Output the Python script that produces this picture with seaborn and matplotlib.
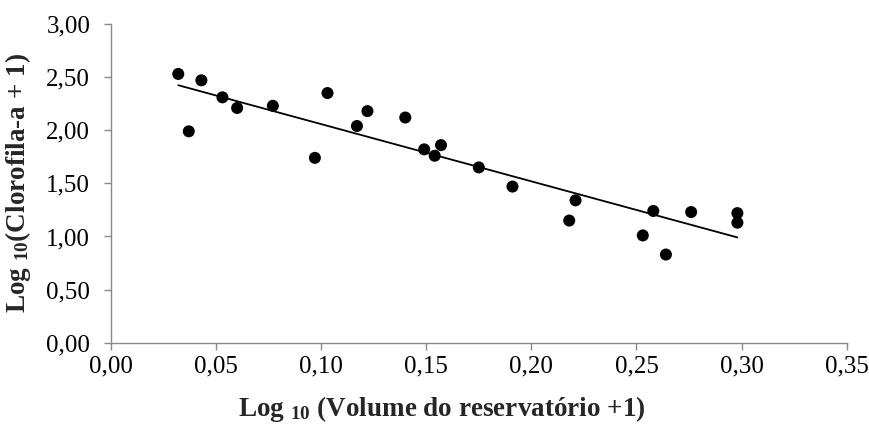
import matplotlib
matplotlib.use("Agg")
import matplotlib.pyplot as plt
import seaborn as sns
import numpy as np
import pandas as pd
from matplotlib.ticker import FuncFormatter, MultipleLocator

log_volume = [0.032, 0.037, 0.043, 0.053, 0.060, 0.077, 0.097, 0.103, 0.117, 0.122,
              0.140, 0.149, 0.154, 0.157, 0.175, 0.191, 0.218, 0.221, 0.253, 0.258,
              0.264, 0.276, 0.298, 0.298]
log_chl = [2.53, 1.99, 2.47, 2.31, 2.21, 2.23, 1.74, 2.35, 2.04, 2.18,
           2.12, 1.82, 1.76, 1.86, 1.65, 1.47, 1.15, 1.34, 1.01, 1.24,
           0.83, 1.23, 1.22, 1.13]

df = pd.DataFrame({"x": log_volume, "y": log_chl})

sns.set_theme(style="white")
plt.rcParams["font.family"] = ["Liberation Serif", "DejaVu Serif"]
plt.rcParams["mathtext.fontset"] = "custom"
plt.rcParams["mathtext.rm"] = "Liberation Serif"
plt.rcParams["mathtext.bf"] = "Liberation Serif:bold"
plt.rcParams["mathtext.it"] = "Liberation Serif:italic"

fig = plt.figure(figsize=(8.7, 4.25), dpi=100)
ax = fig.add_axes([0.1276, 0.1936, 0.8456, 0.7499])

sns.regplot(data=df, x="x", y="y", ax=ax, ci=None,
            scatter_kws=dict(s=75, color="black", edgecolor="none", alpha=1),
            line_kws=dict(color="black", lw=1.3))

ax.set_xlim(0, 0.35)
ax.set_ylim(0, 3.0)
ax.xaxis.set_major_locator(MultipleLocator(0.05))
ax.yaxis.set_major_locator(MultipleLocator(0.5))
fmt = FuncFormatter(lambda v, p: f"{v:.2f}".replace(".", ","))
ax.xaxis.set_major_formatter(fmt)
ax.yaxis.set_major_formatter(fmt)

for s in ["top", "right"]:
    ax.spines[s].set_visible(False)
for s in ["left", "bottom"]:
    ax.spines[s].set_color("#898989")
    ax.spines[s].set_linewidth(1.0)

ax.tick_params(axis="both", which="major", direction="out", length=5, width=1,
               color="#898989", labelsize=18, labelcolor="black")
ax.tick_params(axis="x", bottom=True, pad=4)
ax.tick_params(axis="y", left=True, pad=10)

ax.set_xlabel(r"Log $_{\mathbf{10}}$ (Volume do reservatório +1)", fontsize=19.5,
              fontweight="bold")
ax.set_ylabel(r"Log $_{\mathbf{10}}$(Clorofila-a + 1)", fontsize=19.5,
              fontweight="bold")
ax.xaxis.set_label_coords(0.45, -0.162)
ax.yaxis.set_label_coords(-0.106, 0.5)

fig.savefig("out.png", dpi=100)
